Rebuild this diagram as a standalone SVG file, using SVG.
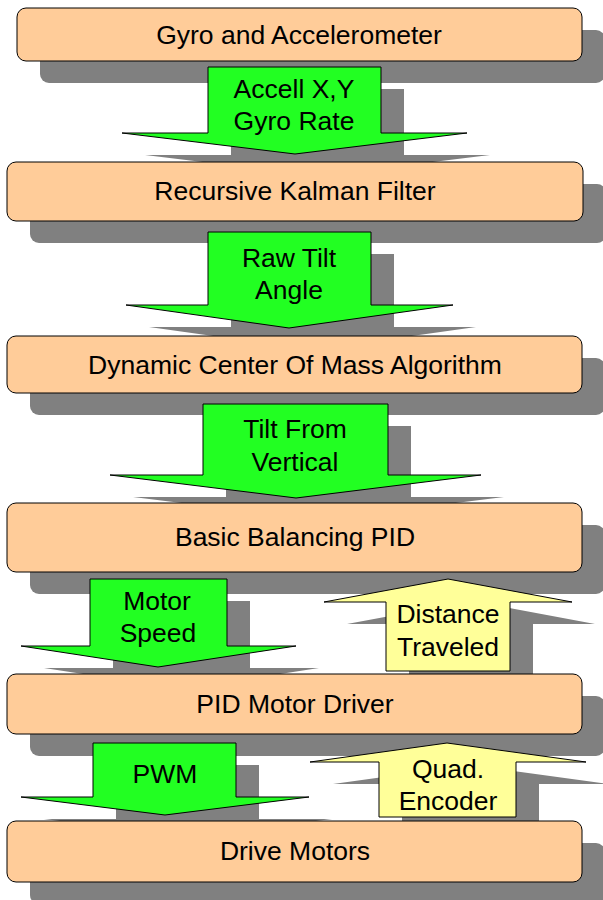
<svg xmlns="http://www.w3.org/2000/svg" xmlns:xlink="http://www.w3.org/1999/xlink" width="603" height="900" viewBox="0 0 603 900">
<style>
.box{fill:#FFCC99;stroke:#000;stroke-width:1}
.down{fill:#22FF22;stroke:#000;stroke-width:1}
.up{fill:#FFFF99;stroke:#000;stroke-width:1}
.sh{fill:#808080;stroke:none}
text{font-family:"Liberation Sans",Arial,sans-serif;font-size:26.5px;fill:#000;text-anchor:middle}
</style>
<defs>
<rect id="b1" x="17" y="8" width="565" height="53" rx="9"/>
<rect id="b2" x="7" y="162" width="576" height="59" rx="9"/>
<rect id="b3" x="7" y="336" width="575" height="57" rx="9"/>
<rect id="b4" x="7" y="503" width="575" height="69" rx="9"/>
<rect id="b5" x="7" y="674" width="575" height="60" rx="9"/>
<rect id="b6" x="7" y="821" width="575" height="61" rx="9"/>
<polygon id="a1" points="208,67 381,67 381,133 467,133 295,154 122,133 208,133"/>
<polygon id="a2" points="208,232 371,232 371,305 453,305 289,328 126,305 208,305"/>
<polygon id="a3" points="203,404 388,404 388,475 481,475 296,498 110,475 203,475"/>
<polygon id="a4" points="90,579 227,579 227,646 296,646 158,667 21,646 90,646"/>
<polygon id="a5" points="448,579 572,602 510,602 510,671 386,671 386,602 324,602"/>
<polygon id="a6" points="93,743 236,743 236,797 309,797 165,815 21,797 93,797"/>
<polygon id="a7" points="447,743 586,762 516,762 516,817 379,817 379,762 310,762"/>
</defs>
<g id="shadows" transform="translate(23,22)" class="sh">
<use xlink:href="#b1"/><use xlink:href="#b2"/><use xlink:href="#b3"/><use xlink:href="#b4"/><use xlink:href="#b5"/><use xlink:href="#b6"/>
<use xlink:href="#a1"/><use xlink:href="#a2"/><use xlink:href="#a3"/><use xlink:href="#a4"/><use xlink:href="#a5"/><use xlink:href="#a6"/><use xlink:href="#a7"/>
</g>
<g id="node-gyro"><use xlink:href="#b1" class="box"/><text x="299" y="44">Gyro and Accelerometer</text></g>
<g id="node-kalman"><use xlink:href="#b2" class="box"/><text x="295" y="200">Recursive Kalman Filter</text></g>
<g id="node-com"><use xlink:href="#b3" class="box"/><text x="295" y="374">Dynamic Center Of Mass Algorithm</text></g>
<g id="node-pid"><use xlink:href="#b4" class="box"/><text x="295" y="546">Basic Balancing PID</text></g>
<g id="node-motordriver"><use xlink:href="#b5" class="box"/><text x="295" y="713">PID Motor Driver</text></g>
<g id="node-motors"><use xlink:href="#b6" class="box"/><text x="295" y="860">Drive Motors</text></g>
<g id="connectors">
<g id="c1"><use xlink:href="#a1" class="down"/><text x="294" y="98">Accell X,Y</text><text x="294" y="130">Gyro Rate</text></g>
<g id="c2"><use xlink:href="#a2" class="down"/><text x="289" y="267">Raw Tilt</text><text x="289" y="299">Angle</text></g>
<g id="c3"><use xlink:href="#a3" class="down"/><text x="295" y="438">Tilt From</text><text x="295" y="471">Vertical</text></g>
<g id="c4"><use xlink:href="#a4" class="down"/><text x="157" y="610">Motor</text><text x="158" y="642">Speed</text></g>
<g id="c5"><use xlink:href="#a5" class="up"/><text x="448" y="623">Distance</text><text x="448" y="656">Traveled</text></g>
<g id="c6"><use xlink:href="#a6" class="down"/><text x="165" y="783">PWM</text></g>
<g id="c7"><use xlink:href="#a7" class="up"/><text x="448" y="778">Quad.</text><text x="448" y="810">Encoder</text></g>
</g>
</svg>
